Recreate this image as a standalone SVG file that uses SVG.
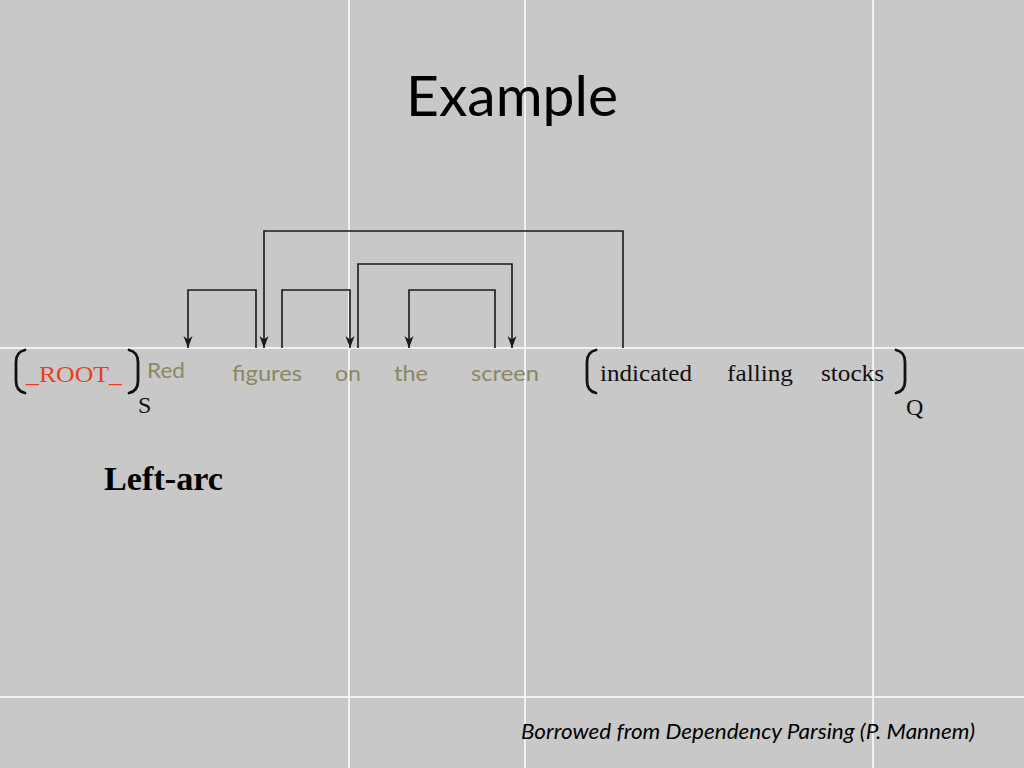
<svg xmlns="http://www.w3.org/2000/svg" width="1024" height="768" viewBox="0 0 1024 768">
<defs>
<style>
.grid{stroke:#ffffff;stroke-width:1.5}
.conn{fill:none;stroke:#1a1a1a;stroke-width:1.6}
.brk{fill:none;stroke:#111111;stroke-width:2.8;stroke-linecap:round}
</style>
<marker id="arr" viewBox="0 0 12 10" refX="12" refY="5" markerWidth="12" markerHeight="10" markerUnits="userSpaceOnUse" orient="auto">
<path d="M0,0.5 L12,5 L0,9.5 L3.5,5 z" fill="#1a1a1a"/>
</marker>
</defs>
<rect x="0" y="0" width="1024" height="768" fill="#c8c8c8"/>
<g id="grid">
<line class="grid" x1="349" y1="0" x2="349" y2="768"/>
<line class="grid" x1="525" y1="0" x2="525" y2="768"/>
<line class="grid" x1="873" y1="0" x2="873" y2="768"/>
<line class="grid" x1="0" y1="348" x2="1024" y2="348"/>
<line class="grid" x1="0" y1="697" x2="1024" y2="697"/>
</g>
<g id="title"><text x="406" y="116" font-family="Lato,'Open Sans',sans-serif" font-size="56" fill="#000" textLength="212" lengthAdjust="spacingAndGlyphs">Example</text></g>
<g id="connectors">
<polyline class="conn" points="256,348 256,290 188,290 188,348" marker-end="url(#arr)"/>
<polyline class="conn" points="623,348 623,231 264,231 264,348" marker-end="url(#arr)"/>
<polyline class="conn" points="282,348 282,290 350,290 350,348" marker-end="url(#arr)"/>
<polyline class="conn" points="358,348 358,264 512,264 512,348" marker-end="url(#arr)"/>
<polyline class="conn" points="495,348 495,290 409,290 409,348" marker-end="url(#arr)"/>
</g>
<g id="stack" font-family="'Liberation Serif','Times New Roman',serif" font-size="24" fill="#111111">
<path class="brk" d="M25,350 Q16,352 16,362 L16,381 Q16,391 25,393"/>
<text x="26" y="382" fill="#e8401e" textLength="96" lengthAdjust="spacingAndGlyphs">_ROOT_</text>
<path class="brk" d="M129,350 Q138,352 138,362 L138,381 Q138,391 129,393"/>
<text x="138" y="413">S</text>
</g>
<g id="words" font-family="Lato,'Open Sans','Liberation Sans',sans-serif" font-size="22" fill="#8a8860">
<g id="w-red"><text x="147" y="378" textLength="38" lengthAdjust="spacingAndGlyphs">Red</text></g>
<g id="w-figures"><text x="232" y="381" textLength="70" lengthAdjust="spacingAndGlyphs">figures</text></g>
<g id="w-on"><text x="335" y="381" textLength="26" lengthAdjust="spacingAndGlyphs">on</text></g>
<g id="w-the"><text x="394" y="381" textLength="34" lengthAdjust="spacingAndGlyphs">the</text></g>
<g id="w-screen"><text x="471" y="381" textLength="68" lengthAdjust="spacingAndGlyphs">screen</text></g>
</g>
<g id="queue" font-family="'Liberation Serif','Times New Roman',serif" font-size="24" fill="#111111">
<path class="brk" d="M596,350 Q587,352 587,362 L587,381 Q587,391 596,393"/>
<text x="600" y="381" textLength="92" lengthAdjust="spacingAndGlyphs">indicated</text>
<text x="727" y="381" textLength="66" lengthAdjust="spacingAndGlyphs">falling</text>
<text x="821" y="381" textLength="63" lengthAdjust="spacingAndGlyphs">stocks</text>
<path class="brk" d="M896,350 Q905,352 905,362 L905,381 Q905,391 896,393"/>
<text x="906" y="415">Q</text>
</g>
<g id="action"><text x="104" y="490" font-family="'Liberation Serif','Times New Roman',serif" font-size="34" font-weight="bold" fill="#000" textLength="119" lengthAdjust="spacingAndGlyphs">Left-arc</text></g>
<g id="footer"><text x="521" y="739" font-family="Lato,'Open Sans',sans-serif" font-style="italic" font-size="21" fill="#000" textLength="454" lengthAdjust="spacingAndGlyphs">Borrowed from Dependency Parsing (P. Mannem)</text></g>
</svg>
